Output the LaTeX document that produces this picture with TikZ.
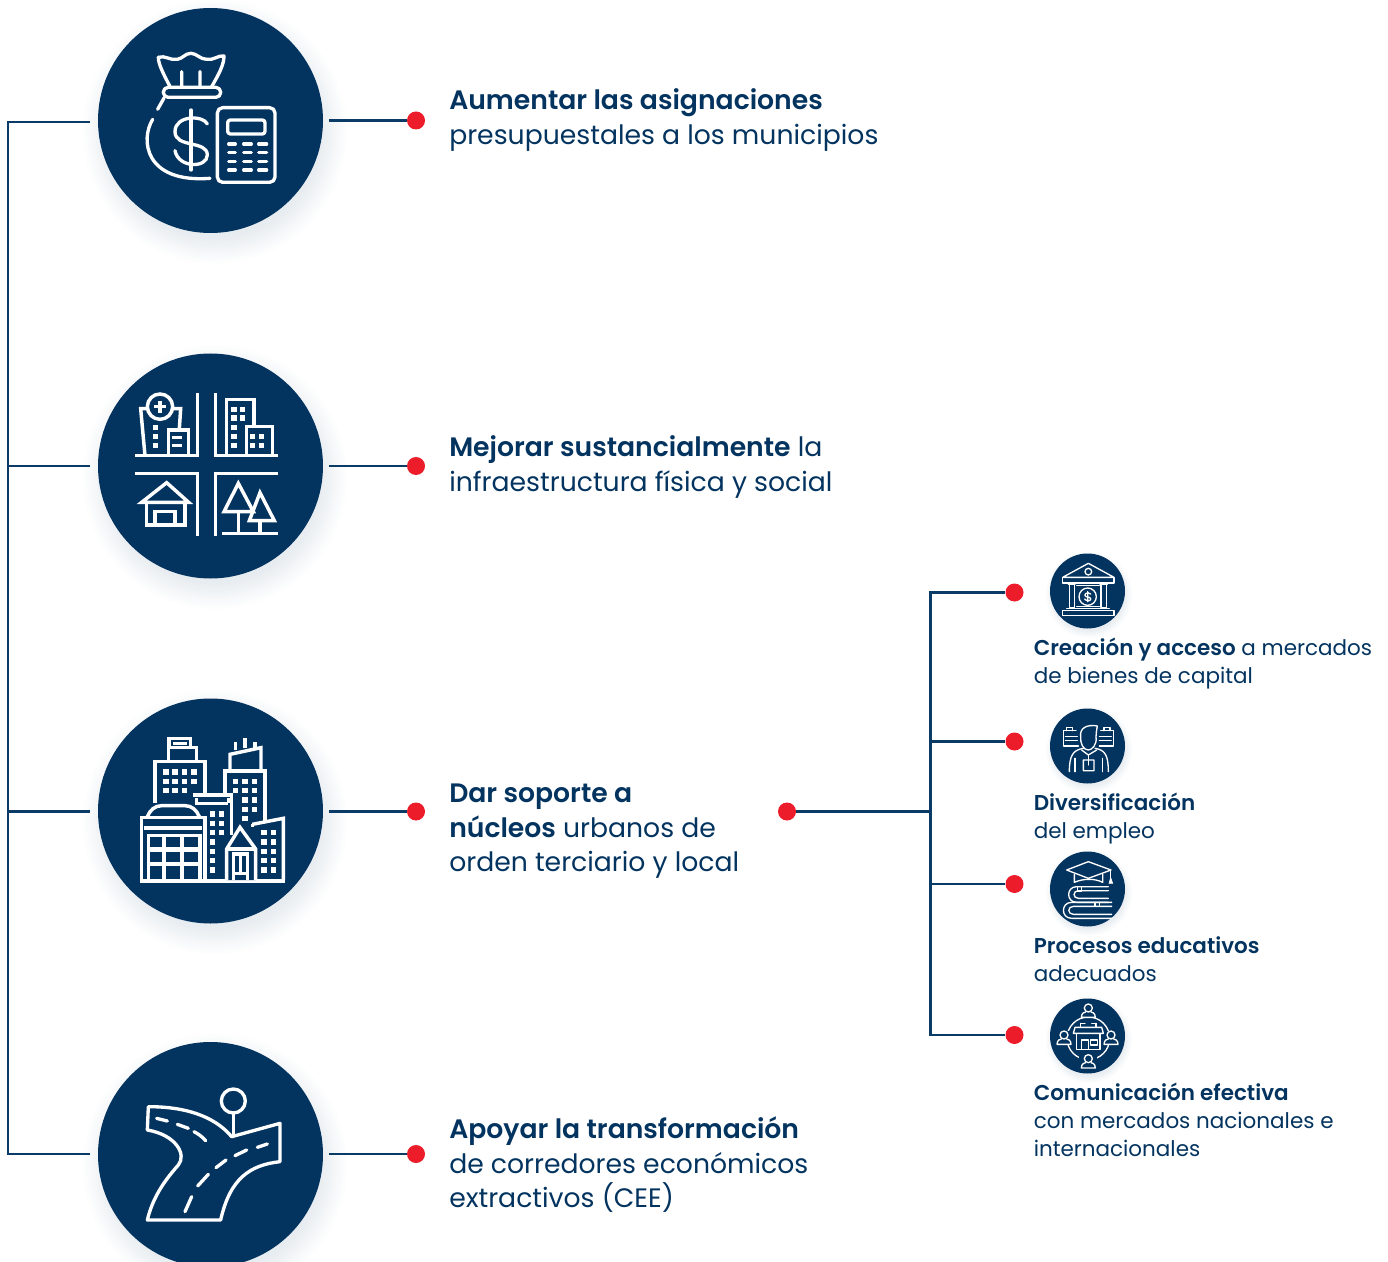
\documentclass[tikz,border=0pt]{standalone}
\usepackage{fontspec}
\setmainfont{Poppins}[BoldFont={Poppins SemiBold}]
\definecolor{navy}{HTML}{03335F}
\definecolor{linec}{HTML}{0A3A66}
\definecolor{reddot}{HTML}{ED1C2A}
\tikzset{
 x=0.75pt,y=-0.75pt,
 bigc/.style={circle,fill=navy,minimum size=168.75pt,inner sep=0pt},
 smallc/.style={circle,fill=navy,minimum size=56.25pt,inner sep=0pt},
 dotn/.style={circle,fill=reddot,minimum size=13.5pt,inner sep=0pt},
 conn/.style={draw=linec,line width=1.9pt},
 ico/.style={draw=white,line width=2.6pt,line join=miter,fill=none},
 icoR/.style={draw=white,line width=2.5pt,line cap=round,line join=round,fill=none},
 sico/.style={draw=white,line width=1pt,line cap=round,line join=round,fill=none},
 bigt/.style={anchor=west,align=left,text=navy,inner sep=0pt,font=\fontsize{20}{25.9}\selectfont},
 smallt/.style={anchor=west,align=left,text=navy,inner sep=0pt,font=\fontsize{16.1}{21}\selectfont},
}
\newcommand{\softshadow}[3]{%
 \foreach \rr in {0,1,...,23}{\fill[navy,opacity=0.0045] (#1+#3*0.04,#2+#3*0.1) circle[radius={(#3*0.94+\rr*#3/95)*0.75pt}];}%
}
\newcommand{\win}[2]{\fill[white] (#1-8,#2-8) rectangle (#1+8,#2+8);}
\begin{document}
\begin{tikzpicture}
\useasboundingbox (0,0) rectangle (1388,1262);
\softshadow{210.5}{120.5}{112}
\softshadow{210.5}{466}{112}
\softshadow{210.5}{811}{112}
\softshadow{210.5}{1154.5}{112}
\softshadow{1087.5}{591}{37}
\softshadow{1087.5}{746}{37}
\softshadow{1087.5}{889}{37}
\softshadow{1087.5}{1036}{37}
\node[bigc] (c1) at (210.5,120.5) {};
\node[bigc] (c2) at (210.5,466) {};
\node[bigc] (c3) at (210.5,811) {};
\node[bigc] (c4) at (210.5,1154.5) {};
\node[smallc] (s1) at (1087.5,591) {};
\node[smallc] (s2) at (1087.5,746) {};
\node[smallc] (s3) at (1087.5,889) {};
\node[smallc] (s4) at (1087.5,1036) {};
% connectors
\coordinate (tt) at (8,122); \coordinate (tb) at (8,1154);
\coordinate (l1) at (90,122); \coordinate (l2) at (90,466); \coordinate (l3) at (90,811.5); \coordinate (l4) at (90,1154);
\coordinate (t2) at (8,466); \coordinate (t3) at (8,811.5);
\coordinate (r1) at (329,120.5); \coordinate (r2) at (329,466); \coordinate (r3) at (329,811.5); \coordinate (r4) at (329,1154);
\node[dotn] (d1) at (416,120.5) {};
\node[dotn] (d2) at (416,466) {};
\node[dotn] (d3) at (416,811.5) {};
\node[dotn] (d4) at (416,1154) {};
\node[dotn] (d5) at (787,811.5) {};
\node[dotn] (e1) at (1014.5,592.5) {};
\node[dotn] (e2) at (1014.5,741.5) {};
\node[dotn] (e3) at (1014.5,884) {};
\node[dotn] (e4) at (1014.5,1035) {};
\coordinate (v1) at (930.5,592.5); \coordinate (v2) at (930.5,741.5); \coordinate (v3) at (930.5,884); \coordinate (v4) at (930.5,1035); \coordinate (vm) at (930.5,811.5);
\draw[conn,line join=miter] (l1) -- (tt) -- (tb) -- (l4);
\draw[conn] (t2) -- (l2); \draw[conn] (t3) -- (l3);
\draw[conn] (r1) -- (d1); \draw[conn] (r2) -- (d2); \draw[conn] (r3) -- (d3); \draw[conn] (r4) -- (d4);
\draw[conn] (d5) -- (vm);
\draw[conn,line join=miter] (e1) -- (v1) -- (v4) -- (e4);
\draw[conn] (v2) -- (e2); \draw[conn] (v3) -- (e3);
% texts
\node[bigt] (t1) at (449,120) {\textbf{Aumentar las asignaciones}\\presupuestales a los municipios};
\node[bigt] (t2x) at (449,467) {\textbf{Mejorar sustancialmente} la\\infraestructura física y social};
\node[bigt] (t3x) at (449,831.5) {\textbf{Dar soporte a}\\\textbf{núcleos} urbanos de\\orden terciario y local};
\node[bigt] (t4x) at (449,1165) {\textbf{Apoyar la transformación}\\de corredores económicos\\extractivos (CEE)};
\node[smallt] (u1) at (1033.5,663) {\textbf{Creación y acceso} a mercados\\de bienes de capital};
\node[smallt] (u2) at (1033.5,818) {\textbf{Diversificación}\\del empleo};
\node[smallt] (u3) at (1033.5,959) {\textbf{Procesos educativos}\\adecuados};
\node[smallt] (u4) at (1033.5,1120) {\textbf{Comunicación efectiva}\\con mercados nacionales e\\internacionales};
% icon 1
\begin{scope}[shift={(90,0)},x=0.25pt,y=-0.25pt]
\draw[icoR] (205,172) .. controls (225,165) and (240,182) .. (262,178) .. controls (280,175) and (285,160) .. (303,160) .. controls (320,160) and (330,178) .. (350,178) .. controls (370,182) and (385,165) .. (402,168) .. controls (402,195) and (385,225) .. (365,260);
\draw[icoR] (205,172) .. controls (205,195) and (225,230) .. (240,260);
\draw[icoR,rounded corners=3.6pt] (220,262) rectangle (392,292);
\draw[icoR] (275,215) -- (275,260) (330,215) -- (330,260) (222,294) -- (203,328);
\draw[icoR] (188,358) .. controls (150,420) and (165,550) .. (360,535);
\draw[icoR] (352,372) .. controls (340,345) and (255,345) .. (255,395) .. controls (255,445) and (352,420) .. (352,465) .. controls (352,505) and (265,505) .. (255,452);
\draw[icoR] (303,330) -- (303,510);
\draw[icoR,rounded corners=4pt] (382,323) rectangle (555,547);
\draw[icoR,rounded corners=2pt] (413,360) rectangle (525,402);
\foreach \yy in {432,457,484,510}{\foreach \xx/\xxb in {416/436,461/484,506/530}{\draw[icoR] (\xx,\yy) -- (\xxb,\yy);}}
\end{scope}
% icon 2
\begin{scope}[shift={(90,350)},x=0.25pt,y=-0.25pt]
\draw[ico] (135,317) -- (322,317) -- (322,130);
\draw[ico] (563,317) -- (376,317) -- (376,130);
\draw[ico] (135,370) -- (322,370) -- (322,557);
\draw[ico] (563,370) -- (376,370) -- (376,557);
\draw[ico] (397,550) -- (563,550);
\draw[ico] (210,170) circle[radius=9.5pt];
\draw[ico] (210,152) -- (210,188) (192,170) -- (228,170);
\draw[ico] (165,317) -- (152,176) -- (172,176) (248,176) -- (272,176) -- (268,236);
\draw[ico] (235,317) -- (235,240) -- (295,240) -- (295,317);
\foreach \yy in {232,260,287}{\win{197}{\yy}}
\draw[ico] (245,262) -- (275,262) (245,287) -- (275,287);
\draw[ico] (410,317) -- (410,148) -- (492,148) -- (492,230);
\draw[ico] (470,317) -- (470,230) -- (547,230) -- (547,317);
\foreach \yy in {178,204,232,260,287}{\win{432}{\yy}}
\foreach \yy in {178,204}{\win{458}{\yy}}
\foreach \xx in {487,514}{\foreach \yy in {260,287}{\win{\xx}{\yy}}}
\draw[ico] (155,457) -- (230,398) -- (296,457) -- cycle;
\draw[ico] (170,457) -- (170,525) -- (285,525) -- (285,457);
\draw[ico] (195,525) -- (195,485) -- (255,485) -- (255,525);
\draw[ico] (402,485) -- (445,400) -- (490,485) -- cycle;
\draw[ico] (445,485) -- (445,550);
\draw[ico] (478,512) -- (510,428) -- (553,512) -- cycle;
\draw[ico] (510,512) -- (510,550);
\end{scope}
% icon 3
\begin{scope}[shift={(90,695)},x=0.25pt,y=-0.25pt]
\draw[ico] (237,155) -- (237,130) -- (302,130) -- (302,155);
\draw[ico] (250,145) -- (290,145);
\draw[ico] (235,200) -- (235,158) -- (320,158) -- (320,200);
\draw[ico] (195,325) -- (195,200) -- (345,200) -- (345,295);
\foreach \xx in {228,255,283,312}{\foreach \yy in {231,259}{\win{\xx}{\yy}}}
\foreach \xx in {228,255,283}{\win{\xx}{287}}
\draw[ico] (420,225) -- (420,178) -- (513,158) -- (513,225);
\draw[ico] (437,165) -- (437,140) (465,160) -- (465,128) (495,158) -- (495,142);
\draw[ico] (405,295) -- (405,228) -- (525,228) -- (525,378);
\foreach \xx in {437,465,493}{\foreach \yy in {259,287}{\win{\xx}{\yy}}}
\foreach \xx in {465,493}{\foreach \yy in {315,343}{\win{\xx}{\yy}}}
\win{465}{371}
\draw[ico] (310,300) -- (425,300) -- (425,420);
\draw[ico] (320,325) -- (415,325) (320,310) -- (320,330) (415,310) -- (415,325);
\foreach \xx in {367,395}{\foreach \yy in {357,385,413}{\win{\xx}{\yy}}}
\foreach \yy in {441,470,497,525}{\win{367}{\yy}}
\draw[ico] (155,555) -- (155,368) -- (345,368) -- (345,555);
\draw[ico] (172,365) .. controls (180,345) and (195,332) .. (215,332) -- (285,332) .. controls (305,332) and (320,345) .. (328,365);
\draw[ico,line width=3.2pt] (163,400) -- (337,400);
\draw[ico] (175,552) -- (175,422) -- (330,422) -- (330,552);
\draw[ico,line width=3.4pt] (180,463) -- (328,463) (180,507) -- (328,507) (222,425) -- (222,552) (276,425) -- (276,552);
\draw[ico,line width=3pt] (150,557) -- (585,557);
\draw[ico,fill=navy] (410,555) -- (410,462) -- (450,397) -- (497,462) -- (497,555);
\draw[ico] (410,462) -- (497,462);
\draw[ico] (430,555) -- (430,477) -- (473,477) -- (473,555) (452,477) -- (452,535) (430,535) -- (473,535);
\draw[ico] (487,388) -- (580,370) -- (580,555);
\draw[ico] (487,388) -- (487,395);
\foreach \xx in {522,550}{\foreach \yy in {413,441,469,497,525}{\win{\xx}{\yy}}}
\end{scope}
% icon 4
\begin{scope}[shift={(90,1035)},x=0.25pt,y=-0.25pt]
\draw[icoR] (175,215) .. controls (280,215) and (370,240) .. (425,305) -- (570,265) -- (570,380) .. controls (480,390) and (420,430) .. (392,555) -- (172,555) .. controls (190,480) and (230,430) .. (265,390) .. controls (290,360) and (260,300) .. (172,285) -- cycle;
\draw[icoR] (200,250) -- (232,258) (262,268) -- (295,280) (312,290) .. controls (325,297) and (337,305) .. (347,317);
\draw[icoR] (532,327) -- (502,337) (470,345) -- (435,362) (408,375) -- (378,398) (355,418) -- (323,453) (305,485) -- (285,530);
\draw[icoR] (430,198) circle[radius=9pt];
\draw[icoR] (430,235) -- (430,300);
\end{scope}
% small icon 1
\begin{scope}[shift={(1040,545)},x=0.25pt,y=-0.25pt]
\draw[sico] (68,97) -- (145,55) -- (222,97) -- cycle;
\draw[sico] (68,97) rectangle (222,114);
\draw[sico] (145,80) circle[radius=2.5pt];
\draw[sico] (85,118) -- (105,118) (88,118) rectangle (104,188) (183,118) rectangle (199,188);
\draw[sico] (180,118) -- (202,118);
\draw[sico] (110,122) -- (178,122) (110,184) -- (178,184);
\draw[sico] (80,190) -- (208,190);
\draw[sico] (68,196) rectangle (222,212);
\draw[sico] (143,155) circle[radius=6.5pt];
\draw[sico] (152,147) .. controls (143,140) and (133,146) .. (135,152) .. controls (137,158) and (152,154) .. (152,162) .. controls (152,170) and (138,168) .. (134,162) (143,140) -- (143,170);
\end{scope}
% small icon 2
\begin{scope}[shift={(1040,700)},x=0.25pt,y=-0.25pt]
\draw[sico] (108,92) -- (70,92) -- (70,138) -- (115,138) (80,92) -- (80,82) -- (98,82) -- (98,92) (76,110) -- (112,110) (76,122) -- (112,122);
\draw[sico] (182,92) -- (220,92) -- (220,138) -- (178,138) (192,92) -- (192,82) -- (210,82) -- (210,92) (178,110) -- (214,110) (178,122) -- (214,122);
\draw[sico] (122,110) .. controls (118,85) and (140,72) .. (172,78) .. controls (170,90) and (168,100) .. (168,110) .. controls (172,135) and (155,150) .. (145,150) .. controls (130,150) and (120,130) .. (122,110);
\draw[sico] (130,145) .. controls (100,150) and (88,165) .. (88,215) (165,145) .. controls (195,150) and (205,165) .. (205,215);
\draw[sico] (105,215) -- (105,175) (188,215) -- (188,175);
\draw[sico] (125,150) -- (145,165) -- (170,150) (130,180) -- (130,212) -- (162,212) -- (162,180) -- cycle;
\draw[sico] (145,165) -- (145,195);
\end{scope}
% small icon 3
\begin{scope}[shift={(1040,845)},x=0.25pt,y=-0.25pt]
\draw[sico] (80,75) -- (145,50) -- (213,75) -- (145,100) -- cycle;
\draw[sico] (103,88) -- (103,112) .. controls (130,100) and (165,100) .. (188,112) -- (188,88);
\draw[sico] (212,78) -- (212,100);
\draw[white,fill=white,line width=0.5pt] (207,115) -- (212,98) -- (218,115) -- cycle;
\draw[sico] (205,125) -- (110,125) .. controls (78,125) and (78,172) .. (110,172) -- (205,172);
\draw[sico] (205,137) -- (115,137) .. controls (98,137) and (98,160) .. (115,160) -- (205,160);
\draw[sico] (215,172) -- (95,172) .. controls (62,172) and (62,220) .. (95,220) -- (215,220);
\draw[sico] (215,184) -- (100,184) .. controls (82,184) and (82,208) .. (100,208) -- (215,208);
\draw[sico] (113,125) -- (113,140) -- (125,140) -- (125,125) (165,172) -- (165,185) -- (178,185) -- (178,172);
\end{scope}
% small icon 4
\begin{scope}[shift={(1040,990)},x=0.25pt,y=-0.25pt]
\draw[sico] (145,145) circle[radius=16pt];
\foreach \px/\py in {145/62,72/143,213/143,145/214}{
 \fill[navy] (\px-27,\py-20) rectangle (\px+27,\py+20);
 \draw[sico] (\px,\py-8) circle[radius=3pt];
 \draw[sico] (\px-21,\py+20) .. controls (\px-21,\py+6) and (\px-10,\py+4) .. (\px-8,\py+4) (\px+21,\py+20) .. controls (\px+21,\py+6) and (\px+10,\py+4) .. (\px+8,\py+4) (\px-21,\py+20) -- (\px+21,\py+20);
}
\draw[sico] (110,133) -- (110,178) -- (180,178) -- (180,133);
\draw[sico] (105,112) -- (185,112) -- (190,130) -- (100,130) -- cycle;
\draw[sico] (122,100) -- (122,112) (168,100) -- (168,112) (122,100) -- (135,100) (155,100) -- (168,100);
\draw[sico] (125,178) -- (125,150) -- (145,150) -- (145,178) (152,150) -- (172,150) -- (172,165) -- (152,165) -- cycle;
\end{scope}
\end{tikzpicture}
\end{document}
